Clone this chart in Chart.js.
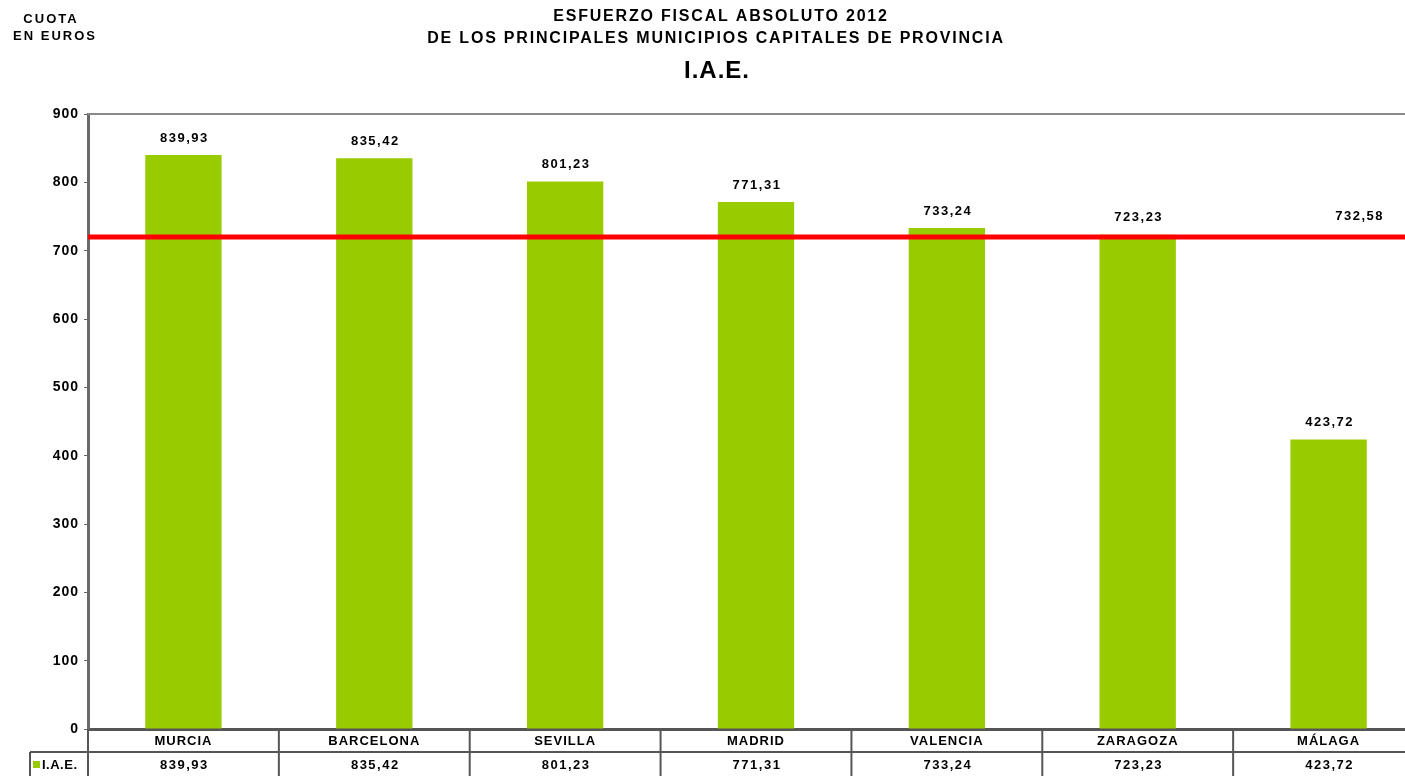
<!DOCTYPE html>
<html><head><meta charset="utf-8">
<script src="https://cdn.jsdelivr.net/npm/chart.js@4.4.0/dist/chart.umd.min.js"></script>
<style>
html,body{margin:0;padding:0;background:#fff;overflow:hidden;width:1405px;height:776px}
#wrap{position:absolute;left:0;top:0;width:1425px;height:776px}
</style>
</head><body><div id="wrap"><canvas id="c" width="1425" height="776"></canvas></div>
<script>
const categories = ['MURCIA','BARCELONA','SEVILLA','MADRID','VALENCIA','ZARAGOZA','MÁLAGA'];
const iaeValues = [839.93, 835.42, 801.23, 771.31, 733.24, 723.23, 423.72];
const yMin = 0, yMax = 900, yStep = 100;
const referenceLineValue = 720;
const referenceLabel = '732,58';
const seriesName = 'I.A.E.';
const titleLines = ['ESFUERZO FISCAL ABSOLUTO 2012', 'DE LOS PRINCIPALES MUNICIPIOS CAPITALES DE PROVINCIA'];
const subtitle = 'I.A.E.';
const unitLines = ['CUOTA', 'EN EUROS'];

const FONT = '"Liberation Sans", Arial, sans-serif';
const GREEN = '#99cc00';
const fmt = v => v.toFixed(2).replace('.', ',');

function line(ctx, x1, y1, x2, y2) { ctx.beginPath(); ctx.moveTo(x1, y1); ctx.lineTo(x2, y2); ctx.stroke(); }

const custom = {
  id: 'custom',
  beforeDraw(chart) { chart.ctx.letterSpacing = '1px'; },
  afterDatasetsDraw(chart) {
    const { ctx, chartArea: a, scales: { x, y } } = chart;
    ctx.save();
    ctx.strokeStyle = '#8a8a8a'; ctx.lineWidth = 2;
    line(ctx, a.left, a.top, a.right, a.top);
    const ry = y.getPixelForValue(referenceLineValue);
    ctx.strokeStyle = '#ff0000'; ctx.lineWidth = 5;
    line(ctx, a.left, ry, a.right, ry);
    ctx.fillStyle = '#000'; ctx.font = 'bold 13px ' + FONT;
    ctx.textAlign = 'center'; ctx.textBaseline = 'middle'; ctx.letterSpacing = '1.5px';
    chart.getDatasetMeta(0).data.forEach((bar, i) => {
      ctx.fillText(fmt(iaeValues[i]), bar.x + 1, bar.y - 17);
    });
    const last = x.getPixelForValue(categories.length - 1);
    ctx.fillText(referenceLabel, last + 31, ry - 21);
    ctx.restore();
  },
  afterDraw(chart) {
    const { ctx, chartArea: a, scales: { x } } = chart;
    ctx.save();
    const rowTop = a.bottom, rowMid = a.bottom + 23, rowBot = 776;
    const half = (x.getPixelForValue(1) - x.getPixelForValue(0)) / 2;
    ctx.strokeStyle = '#555'; ctx.lineWidth = 2;
    line(ctx, 30, rowMid, a.right, rowMid);
    line(ctx, 30, rowMid, 30, rowBot);
    line(ctx, a.left, rowTop, a.left, rowBot);
    categories.forEach((c, i) => {
      const xb = x.getPixelForValue(i) + half;
      line(ctx, xb, rowTop, xb, rowBot);
    });
    ctx.fillStyle = '#000'; ctx.font = 'bold 13px ' + FONT;
    ctx.textAlign = 'center'; ctx.textBaseline = 'middle'; ctx.letterSpacing = '1.5px';
    iaeValues.forEach((v, i) => ctx.fillText(fmt(v), x.getPixelForValue(i) + 1, (rowMid + rowBot) / 2 + 1));
    ctx.fillStyle = GREEN; ctx.fillRect(33, 761, 7, 7);
    ctx.fillStyle = '#000'; ctx.textAlign = 'left'; ctx.letterSpacing = '0.5px';
    ctx.font = 'bold 13px ' + FONT;
    ctx.fillText(seriesName, 42, 765);
    // titles
    ctx.textAlign = 'center';
    ctx.font = 'bold 16px ' + FONT; ctx.letterSpacing = '1.8px';
    ctx.fillText(titleLines[0], 721, 17);
    ctx.fillText(titleLines[1], 716, 39);
    ctx.font = 'bold 24px ' + FONT; ctx.letterSpacing = '1px';
    ctx.fillText(subtitle, 717, 71);
    ctx.font = 'bold 13px ' + FONT; ctx.letterSpacing = '2px';
    ctx.fillText(unitLines[0], 51, 19);
    ctx.fillText(unitLines[1], 55, 36);
    ctx.restore();
  }
};

Chart.defaults.font.family = FONT;
new Chart(document.getElementById('c').getContext('2d'), {
  type: 'bar',
  data: {
    labels: categories,
    datasets: [{ label: seriesName, data: iaeValues, backgroundColor: GREEN, barPercentage: 0.4, categoryPercentage: 1 }]
  },
  options: {
    responsive: false,
    animation: false,
    layout: { padding: { top: 114, left: 0, right: 1, bottom: 0 } },
    plugins: { legend: { display: false }, tooltip: { enabled: false } },
    scales: {
      x: {
        offset: true,
        grid: { display: false, drawTicks: false },
        border: { display: true, color: '#555', width: 3 },
        ticks: { font: { size: 13, weight: 'bold' }, color: '#000', padding: 5, maxRotation: 0, autoSkip: false },
        afterFit(s) { s.height = 47; }
      },
      y: {
        min: yMin, max: yMax,
        ticks: { stepSize: yStep, font: { size: 14, weight: 'bold' }, color: '#000', padding: 5 },
        grid: { drawOnChartArea: false, drawTicks: true, tickLength: 4, color: '#666' },
        border: { color: '#6a6a6a', width: 3 },
        afterFit(s) { s.width = 88; }
      }
    }
  },
  plugins: [custom]
});
</script>
</body></html>
